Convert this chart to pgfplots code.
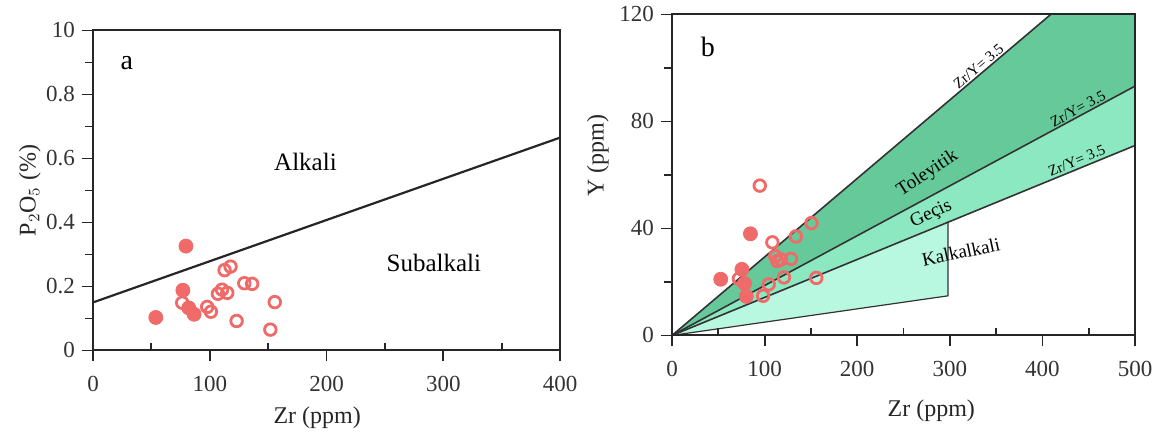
\documentclass[border=0pt]{standalone}
\usepackage{pgfplots}
\pgfplotsset{compat=1.18}
\usepackage{fontspec}
\setmainfont{Liberation Serif}
\definecolor{ptred}{HTML}{F06A6A}
\definecolor{gdark}{HTML}{66C99A}
\definecolor{gmid}{HTML}{8CE8C0}
\definecolor{glight}{HTML}{B8F7E0}
\tikzset{zrlab/.style={font=\fontsize{7.5}{8}\selectfont, anchor=south, inner sep=0.8pt}}
\pgfplotsset{
  common/.style={
    scale only axis, axis line style={line width=1pt,black!85},
    tick pos=left, tick align=outside,
    major tick length=5.5pt,
    tick style={line width=0.9pt,black!85},
    minor tick length=4pt,
    /pgf/number format/assume math mode=true,
    ticklabel style={font=\fontsize{11.5}{12}\selectfont, text=black!80},
    label style={font=\fontsize{12}{13}\selectfont, text=black!85},
    xticklabel style={yshift=-4pt},
    clip=false,
  },
  filled/.style={only marks, mark=*, mark size=3.5pt, mark options={draw=ptred, fill=ptred}},
  open/.style={only marks, mark=o, mark size=2.9pt, mark options={draw=ptred, line width=1.4pt, fill=white}},
}
\begin{document}
\begin{tikzpicture}
\path (0,0) rectangle (580.5pt,218.5pt);
% Panel a
\begin{axis}[common,
  at={(46.5pt,46pt)}, anchor=south west,
  width=233.5pt, height=160pt,
  xmin=0, xmax=400, ymin=0, ymax=1,
  xtick={0,100,200,300,400},
  extra x ticks={50,150,250,350}, extra x tick labels={},
  extra x tick style={tick align=inside, major tick length=3.5pt},
  ytick={0,0.2,0.4,0.6,0.8,1}, yticklabels={0,0.2,0.4,0.6,0.8,10},
  minor ytick={0.1,0.3,0.5,0.7,0.9},
  xlabel={Zr (ppm)}, ylabel={P$_2$O$_5$ (\%)},
  xlabel style={at={(axis description cs:0.48,0)}, anchor=center, yshift=-33.5pt},
  ylabel style={at={(axis description cs:-0.135,0.5)}, anchor=center},
]
\addplot[black!85, line width=1.1pt] coordinates {(0,0.15) (400,0.665)};
\addplot[open] coordinates {
(76.4,0.149) (97.8,0.136) (101,0.121) (107,0.177) (110.5,0.190) (115,0.180)
(112.7,0.251) (117.8,0.262) (129.6,0.210) (136.3,0.208) (123,0.092) (155.7,0.151) (151.9,0.065)};
\addplot[filled] coordinates {
(53.8,0.103) (79.6,0.326) (77,0.188) (82,0.133) (86.6,0.113)};
\node[font=\fontsize{14}{15}\selectfont] at (axis cs:29,0.897) {a};
\node[font=\fontsize{12.5}{13}\selectfont] at (axis cs:182,0.59) {Alkali};
\node[font=\fontsize{12.5}{13}\selectfont] at (axis cs:292,0.272) {Subalkali};
\end{axis}
% Panel b
\begin{axis}[common,
  at={(336pt,53.5pt)}, anchor=south west,
  width=231.5pt, height=160.5pt,
  xmin=0, xmax=500, ymin=0, ymax=120,
  xtick={0,100,200,300,400,500},
  extra x ticks={50,150,250,350,450}, extra x tick labels={},
  extra x tick style={tick align=inside, major tick length=3.5pt},
  ytick={0,40,80,120}, minor ytick={20,60,100},
  xlabel={Zr (ppm)}, ylabel={Y (ppm)},
  xlabel style={at={(axis description cs:0.56,0)}, anchor=center, yshift=-37.5pt},
  ylabel style={at={(axis description cs:-0.16,0.56)}, anchor=center},
  axis on top,
]
\addplot[fill=gdark, draw=none] coordinates {(0,0) (409,120) (500,120) (500,93.2) (0,0)};
\addplot[fill=gmid, draw=none] coordinates {(0,0) (500,93.2) (500,71) (0,0)};
\addplot[fill=glight, draw=none] coordinates {(0,0) (298,42.6) (298,14.8) (0,0)};
\addplot[black!80, line width=0.8pt] coordinates {(0,0) (409,120)};
\addplot[black!80, line width=0.8pt] coordinates {(0,0) (500,93.2)};
\addplot[black!80, line width=0.8pt] coordinates {(0,0) (500,71)};
\addplot[black!80, line width=0.6pt] coordinates {(0,0) (298,14.8) (298,42.6)};
\addplot[open] coordinates {
(94.8,56.0) (108.4,34.8) (133.7,37.0) (150.6,42.0) (72.3,21.2) (98.4,14.8) (104.4,19.1)
(113.7,27.8) (117.7,28.4) (111.6,29.6) (128.5,28.6) (120.9,21.7) (155.8,21.5)};
\addplot[filled] coordinates {
(52.6,21.0) (75.5,24.7) (78.3,19.4) (80.3,14.6) (84.7,38.0)};
\node[font=\fontsize{14}{15}\selectfont] at (axis cs:38.6,108) {b};
\node[zrlab, rotate=40] at (axis cs:336,98.6) {Zr/Y= 3.5};
\node[zrlab, rotate=28.5] at (axis cs:442,82.4) {Zr/Y= 3.5};
\node[zrlab, rotate=22.3] at (axis cs:440,62.9) {Zr/Y= 3.5};
\node[font=\fontsize{9.5}{10}\selectfont, rotate=33] at (axis cs:276,60.5) {Toleyitik};
\node[font=\fontsize{9.5}{10}\selectfont, rotate=25] at (axis cs:280,45.3) {Geçis};
\node[font=\fontsize{9.5}{10}\selectfont, rotate=12] at (axis cs:312,31.2) {Kalkalkali};
\end{axis}
\end{tikzpicture}
\end{document}
